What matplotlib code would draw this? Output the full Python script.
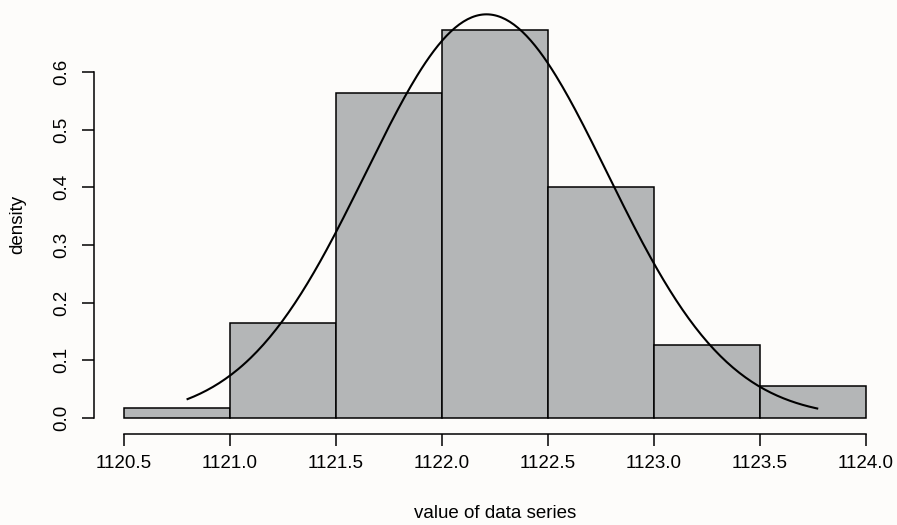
import matplotlib
matplotlib.use("Agg")
import matplotlib.pyplot as plt
import numpy as np

# histogram bins (edges) and densities
binEdges = [1120.5, 1121.0, 1121.5, 1122.0, 1122.5, 1123.0, 1123.5, 1124.0]
densities = [0.018, 0.164, 0.564, 0.673, 0.400, 0.127, 0.055]

# fitted normal curve parameters
curveMean = 1122.21
curveSd = 0.57
curveFrom = 1120.80
curveTo = 1123.77

xTicks = [1120.5, 1121.0, 1121.5, 1122.0, 1122.5, 1123.0, 1123.5, 1124.0]
xTickLabels = ['1120.5', '1121.0', '1121.5', '1122.0', '1122.5', '1123.0', '1123.5', '1124.0']
yTicks = [0.0, 0.1, 0.2, 0.3, 0.4, 0.5, 0.6]

plt.rcParams['font.family'] = ['Liberation Sans', 'DejaVu Sans']
plt.rcParams['font.size'] = 13.5

bg = '#fdfcfa'
fig = plt.figure(figsize=(8.97, 5.25), dpi=100, facecolor=bg)
ax = fig.add_axes([0.1051, 0.1741, 0.8934, 0.7987])
ax.set_facecolor(bg)

edges = np.array(binEdges)
ax.bar(edges[:-1], densities, width=np.diff(edges), align='edge',
       color='#b4b6b7', edgecolor='black', linewidth=1.1)

xs = np.linspace(curveFrom, curveTo, 300)
ys = np.exp(-0.5 * ((xs - curveMean) / curveSd) ** 2) / (curveSd * np.sqrt(2 * np.pi))
ax.plot(xs, ys, color='black', linewidth=1.5, clip_on=False)

ax.set_xlim(1120.36, 1124.14)
ax.set_ylim(-0.027, 0.70)

for s in ['top', 'right']:
    ax.spines[s].set_visible(False)
ax.spines['left'].set_bounds(0, 0.6)
ax.spines['bottom'].set_bounds(1120.5, 1124.0)
ax.spines['left'].set_linewidth(1.1)
ax.spines['bottom'].set_linewidth(1.1)

ax.set_xticks(xTicks)
ax.set_xticklabels(xTickLabels)
ax.set_yticks(yTicks)
ax.set_yticklabels(['%.1f' % v for v in yTicks], rotation=90, va='center')
ax.tick_params(axis='both', direction='out', length=8.5, width=1.1, colors='black')
ax.tick_params(axis='x', pad=7)
ax.tick_params(axis='y', pad=9)

ax.set_xlabel('value of data series', labelpad=24)
ax.set_ylabel('density', labelpad=19)

fig.savefig('out.png', dpi=100, facecolor=bg)
